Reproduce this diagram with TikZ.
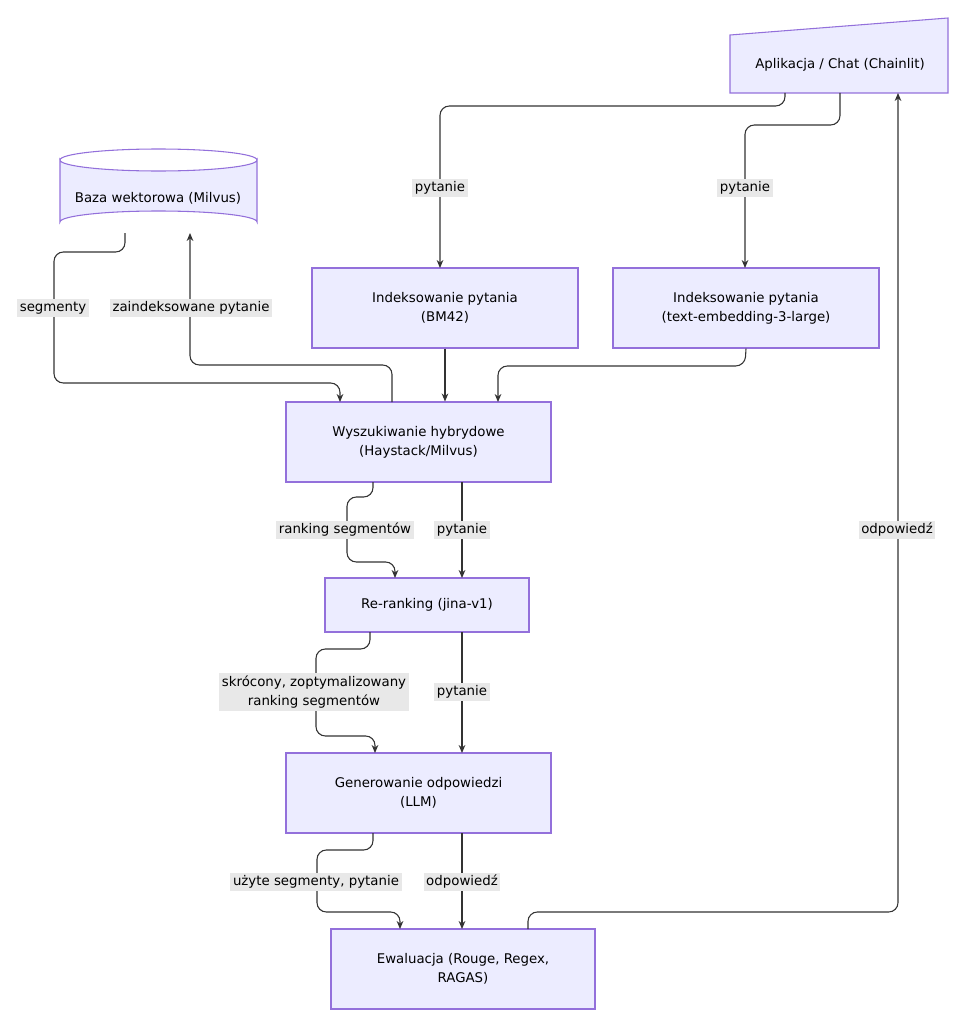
\documentclass[tikz,border=0pt]{standalone}
\usepackage{fontspec}
\setmainfont{DejaVu Sans}
\usetikzlibrary{calc,arrows.meta}
\definecolor{nfill}{HTML}{ECECFF}
\definecolor{nline}{HTML}{9370DB}
\definecolor{eline}{HTML}{333333}
\definecolor{lbg}{HTML}{E8E8E8}
\begin{document}
\begin{tikzpicture}[x=0.75pt,y=-0.75pt,
  box/.style={draw=nline,fill=nfill,line width=0.8pt,align=center,font=\fontsize{10}{14}\selectfont,inner sep=0pt},
  edge/.style={draw=eline,line width=0.8pt,rounded corners=7pt,-{Stealth[length=6pt,width=5pt]}},
  lab/.style={fill=lbg,font=\fontsize{10}{14}\selectfont,align=center,inner sep=2pt,text=black}]
\useasboundingbox (0,0) rectangle (960,1024);
% app shape
\draw[draw=nline,fill=nfill,line width=0.8pt] (730,35) -- (948,18) -- (948,93) -- (730,93) -- cycle;
\node[font=\fontsize{10}{14}\selectfont] (app) at (840,65) {Aplikacja / Chat (Chainlit)};
\coordinate (appb1) at (785,93);
\coordinate (appb2) at (840,93);
\coordinate (appb3) at (898,93);
% cylinder
\draw[draw=nline,fill=nfill,line width=0.8pt] (60,160) -- (60,222) arc[start angle=180,end angle=360,x radius=98.5,y radius=11] -- (257,160) arc[start angle=0,end angle=180,x radius=98.5,y radius=11] -- cycle;
\draw[draw=nline,line width=0.8pt] (60,160) arc[start angle=180,end angle=360,x radius=98.5,y radius=11];
\node[font=\fontsize{10}{14}\selectfont] (db) at (158,198) {Baza wektorowa (Milvus)};
\coordinate (dbb1) at (125,233);
\coordinate (dbb2) at (190,233);
% boxes
\node[box,minimum width=199.5pt,minimum height=60pt] (bm) at (445,308) {Indeksowanie pytania\\(BM42)};
\node[box,minimum width=199.5pt,minimum height=60pt] (te) at (746,308) {Indeksowanie pytania\\(text-embedding-3-large)};
\node[box,minimum width=198.75pt,minimum height=60pt] (hy) at (418.5,442) {Wyszukiwanie hybrydowe\\(Haystack/Milvus)};
\node[box,minimum width=153pt,minimum height=40.5pt] (rr) at (427,605) {Re-ranking (jina-v1)};
\node[box,minimum width=198.75pt,minimum height=60pt] (gen) at (418.5,793) {Generowanie odpowiedzi\\(LLM)};
\node[box,minimum width=198pt,minimum height=60pt] (ev) at (463,969) {Ewaluacja (Rouge, Regex,\\RAGAS)};
% edges
\draw[edge] (appb1) -- (785,106) -- (440,106) -- (440,268);
\node[lab] at (440,188) {pytanie};
\draw[edge] (appb2) -- (840,125) -- (745,125) -- (745,268);
\node[lab] at (745,188) {pytanie};
\draw[edge] (dbb1) -- (125,252) -- (54,252) -- (54,383) -- (340,383) -- (340,402);
\node[lab] at (53,308) {segmenty};
\draw[edge] (392,402) -- (392,365) -- (190,365) -- (dbb2);
\node[lab] at (191,308) {zaindeksowane pytanie};
\draw[edge] (bm.south) -- (hy.north -| bm.south);
\draw[edge] (te.south) -- (745,366) -- (498,366) -- (498,402);
\draw[edge] (373,482) -- (373,497) -- (347,497) -- (347,562) -- (395,562) -- (395,578);
\node[lab] at (345,530) {ranking segmentów};
\draw[edge] (462,482) -- (462,578);
\node[lab] at (462,530) {pytanie};
\draw[edge] (370,632) -- (370,649) -- (316,649) -- (316,736) -- (375,736) -- (375,753);
\node[lab] at (314,692) {skrócony, zoptymalizowany\\ranking segmentów};
\draw[edge] (462,632) -- (462,753);
\node[lab] at (462,692) {pytanie};
\draw[edge] (373,833) -- (373,850) -- (317,850) -- (317,912) -- (400,912) -- (400,929);
\node[lab] at (316,882) {użyte segmenty, pytanie};
\draw[edge] (462,833) -- (462,929);
\node[lab] at (462,882) {odpowiedź};
\draw[edge] (528,929) -- (528,912) -- (898,912) -- (appb3);
\node[lab] at (897,530) {odpowiedź};
\end{tikzpicture}
\end{document}
